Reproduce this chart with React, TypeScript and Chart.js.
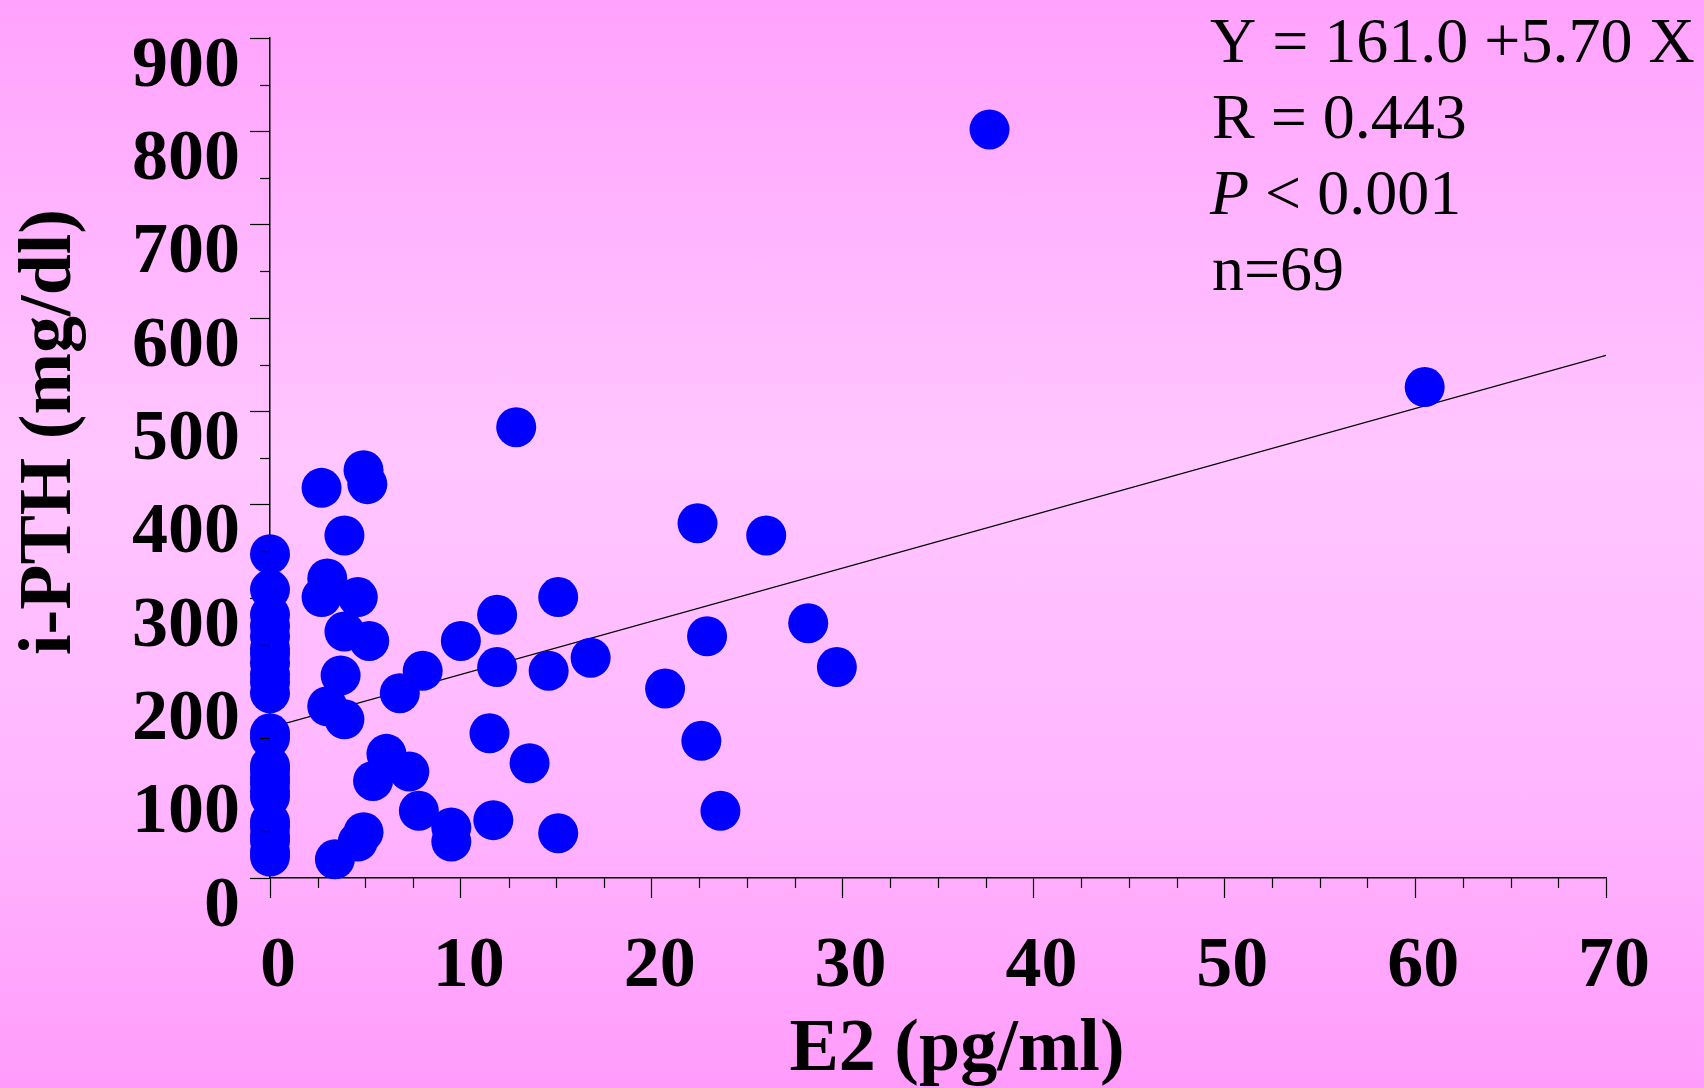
import { useEffect, useRef } from 'react';
import { Chart, registerables } from 'chart.js';

Chart.register(...registerables);

// ---- data ----
// patients with undetectable E2 (E2 = 0), i-PTH values
const zeroE2Pth = [347, 309, 282, 270, 259, 246, 240, 230, 218, 210, 198, 155, 150, 120, 116, 108, 102, 93, 87, 60, 55, 45, 40, 28, 23];
// patients with measurable E2
const e2Values = [
  37.7, 60.5, 12.9,
  2.7, 4.9, 5.1, 3.9,
  22.4, 26.0,
  3.0, 2.7, 4.6, 15.1,
  11.9, 3.9, 5.2, 10.0,
  22.9, 28.2, 16.8, 11.9, 14.6, 29.7,
  8.0, 3.7, 6.8, 20.7,
  3.0, 3.9, 11.5, 22.6,
  6.1, 13.6, 7.3, 5.4,
  7.8, 23.6,
  9.5, 9.5, 11.7, 15.1,
  4.9, 4.6, 3.4,
];
const pthValues = [
  802, 526, 483,
  418, 437, 422, 367,
  380, 367,
  321, 301, 301, 301,
  282, 264, 254, 254,
  259, 273, 236, 226, 222, 226,
  222, 217, 198, 203,
  184, 170, 155, 147,
  133, 123, 114, 104,
  72, 72,
  54, 39, 62, 48,
  49, 39, 20,
];
// regression line Y = 161.0 + 5.70 X, endpoints
const fitLineX = [0, 70];
const fitLineY = [161.0, 560.0];

const xTickValues = [0, 10, 20, 30, 40, 50, 60, 70];
const yTickValues = [0, 100, 200, 300, 400, 500, 600, 700, 800, 900];

const xTitle = 'E2 (pg/ml)';
const yTitle = 'i-PTH (mg/dl)';
const statLine1 = 'Y = 161.0 +5.70 X';
const statLine2 = 'R = 0.443';
const statLine3Italic = 'P';
const statLine3Rest = ' < 0.001';
const statLine4 = 'n=69';

const SERIF = '"Liberation Serif", "Times New Roman", serif';

const decorPlugin = {
  id: 'decor',
  afterDraw(chart: any) {
    const { ctx } = chart;
    const xs = chart.scales.x;
    const ys = chart.scales.y;
    ctx.save();
    // minor ticks
    ctx.strokeStyle = '#000';
    ctx.lineWidth = 1.2;
    for (let i = 0; i < xTickValues.length - 1; i++) {
      const a = xTickValues[i];
      const step = (xTickValues[i + 1] - a) / 4;
      for (let k = 1; k < 4; k++) {
        const px = Math.round(xs.getPixelForValue(a + k * step)) + 0.5;
        ctx.beginPath();
        ctx.moveTo(px, xs.top);
        ctx.lineTo(px, xs.top + 10);
        ctx.stroke();
      }
    }
    for (let i = 0; i < yTickValues.length - 1; i++) {
      const a = yTickValues[i];
      const mid = (a + yTickValues[i + 1]) / 2;
      const py = Math.round(ys.getPixelForValue(mid)) + 0.5;
      ctx.beginPath();
      ctx.moveTo(ys.right - 10, py);
      ctx.lineTo(ys.right, py);
      ctx.stroke();
    }

    // axis titles
    ctx.fillStyle = '#000';
    ctx.font = `bold 74px ${SERIF}`;
    ctx.textAlign = 'center';
    ctx.textBaseline = 'alphabetic';
    ctx.fillText(xTitle, 957, 1070);

    ctx.save();
    ctx.translate(70, 432);
    ctx.rotate(-Math.PI / 2);
    ctx.fillText(yTitle, 0, 0);
    ctx.restore();

    // statistics
    ctx.textAlign = 'left';
    ctx.font = `64px ${SERIF}`;
    const sx = 1210;
    ctx.fillText(statLine1, sx, 62);
    ctx.fillText(statLine2, sx + 2, 138);
    ctx.font = `italic 64px ${SERIF}`;
    ctx.fillText(statLine3Italic, sx, 214);
    const w = ctx.measureText(statLine3Italic).width;
    ctx.font = `64px ${SERIF}`;
    ctx.fillText(statLine3Rest, sx + w, 214);
    ctx.fillText(statLine4, sx + 2, 290);
    ctx.restore();
  },
};

export default function App() {
  const ref = useRef<HTMLCanvasElement>(null);

  useEffect(() => {
    const canvas = ref.current;
    if (!canvas) return;
    const points = [
      ...zeroE2Pth.map((y) => ({ x: 0, y })),
      ...e2Values.map((x, i) => ({ x, y: pthValues[i] })),
    ];
    const fitPoints = fitLineX.map((x, i) => ({ x, y: fitLineY[i] }));

    const tickFont = { family: SERIF, size: 72, weight: 'bold' as const };

    const chart = new Chart(canvas, {
      type: 'scatter',
      data: {
        datasets: [
          {
            label: 'patients',
            data: points,
            backgroundColor: '#0000FF',
            borderColor: '#0000FF',
            borderWidth: 0,
            pointRadius: 20,
            pointHoverRadius: 20,
            clip: false as any,
            order: 0,
          },
          {
            type: 'line' as any,
            label: 'regression',
            data: fitPoints,
            borderColor: '#000000',
            borderWidth: 1.3,
            pointRadius: 0,
            showLine: true,
            fill: false,
            order: 1,
          },
        ],
      },
      options: {
        responsive: false,
        maintainAspectRatio: false,
        animation: false,
        events: [],
        layout: { padding: { top: 38, right: 98, bottom: 0, left: 0 } },
        plugins: {
          legend: { display: false },
          tooltip: { enabled: false },
          title: { display: false },
        },
        scales: {
          x: {
            type: 'linear',
            position: 'bottom',
            min: 0,
            max: 70,
            afterBuildTicks: (s: any) => {
              s.ticks = xTickValues.map((v) => ({ value: v }));
            },
            afterFit: (s: any) => {
              s.height = 210;
              s.paddingLeft = 0;
              s.paddingRight = 0;
            },
            grid: {
              drawOnChartArea: false,
              drawTicks: true,
              tickLength: 20,
              tickColor: '#000',
              tickWidth: 1.2,
            },
            border: { display: true, color: '#000', width: 1.5 },
            ticks: {
              color: '#000',
              font: tickFont,
              padding: 26,
              labelOffset: 8,
              maxRotation: 0,
              autoSkip: false,
            },
          },
          y: {
            type: 'linear',
            min: 0,
            max: 900,
            afterBuildTicks: (s: any) => {
              s.ticks = yTickValues.map((v) => ({ value: v }));
            },
            afterFit: (s: any) => {
              s.width = 270;
              s.paddingTop = 0;
              s.paddingBottom = 0;
            },
            grid: {
              drawOnChartArea: false,
              drawTicks: true,
              tickLength: 20,
              tickColor: '#000',
              tickWidth: 1.2,
            },
            border: { display: true, color: '#000', width: 1.5 },
            ticks: {
              color: '#000',
              font: tickFont,
              padding: 10,
              labelOffset: 29,
              autoSkip: false,
            },
          },
        },
      },
      plugins: [decorPlugin],
    });
    return () => chart.destroy();
  }, []);

  return (
    <div
      style={{
        position: 'fixed',
        left: 0,
        top: 0,
        width: 1704,
        height: 1088,
        background: 'linear-gradient(to bottom, #FFA2FD 0%, #FFC6FF 42%, #FFB8FF 70%, #FF9CFB 100%)',
      }}
    >
      <canvas ref={ref} width={1704} height={1088} style={{ display: 'block', width: 1704, height: 1088 }} />
    </div>
  );
}
